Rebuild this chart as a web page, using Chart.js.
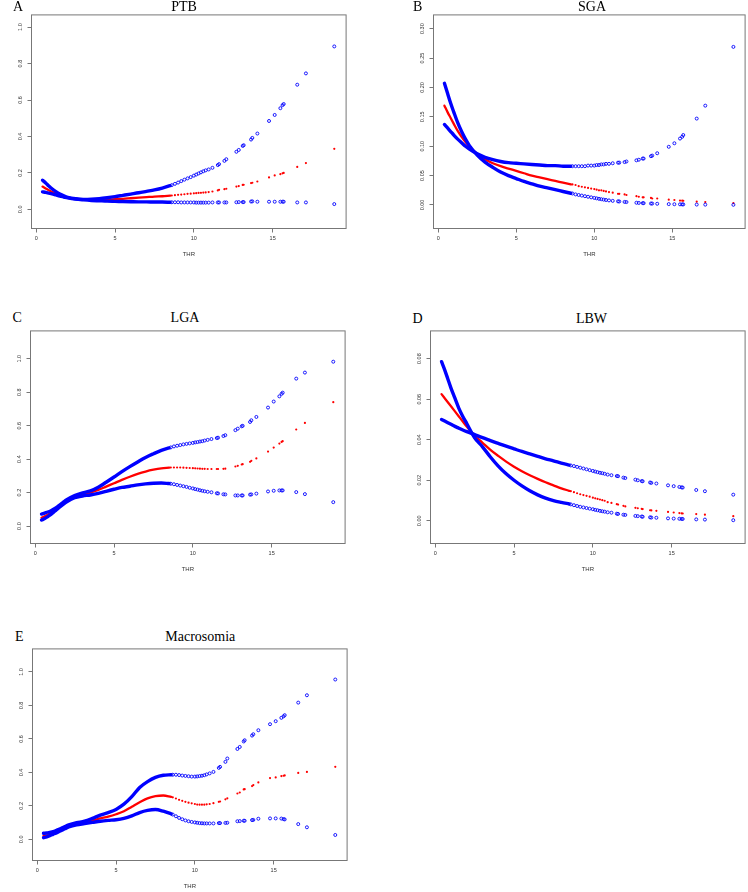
<!DOCTYPE html>
<html lang="en">
<head>
<meta charset="UTF-8">
<title>THR dose-response panels</title>
<script src="https://cdn.jsdelivr.net/npm/chart.js"></script>
<style>
    body {
        margin: 0;
        background: #fff;
        width: 748px;
        height: 892px;
        position: relative;
        overflow: hidden;
    }
    canvas { position: absolute; }
    .title, .letter {
        position: absolute;
        font-family: "Liberation Serif", "Times New Roman", serif;
        font-size: 14px;
        line-height: 14px;
        color: #000;
        white-space: nowrap;
    }
    .title { transform: translateX(-50%); }
</style>
</head>
<body>
<script>
// THR values (same for every panel); the first ones up to DENSE_MAX form a continuous band
const thr = [0.4, 0.6, 0.8, 1.0, 1.25, 1.5, 1.75, 2.0, 2.5, 3.0, 3.5, 4.0, 4.5, 5.0, 5.5, 6.0, 6.5, 7.0, 7.5, 8.0, 8.5,
    8.6, 8.8, 9.0, 9.2, 9.4, 9.6, 9.8, 10.0, 10.15, 10.3, 10.45, 10.6, 10.75,
    10.94, 11.18, 11.52, 11.60, 11.94, 12.06, 12.70, 12.85, 13.10, 13.16, 13.63, 13.71, 14.03, 14.77, 15.13, 15.49, 15.63, 15.70, 16.56, 17.11, 18.91];
const DENSE_MAX = 8.5;

// A - PTB
const ptbCi1 = [0.160, 0.145, 0.128, 0.113, 0.097, 0.084, 0.074, 0.066, 0.058, 0.055, 0.056, 0.059, 0.064, 0.070, 0.077, 0.084, 0.091, 0.099, 0.107, 0.117, 0.130,
    0.133, 0.140, 0.147, 0.155, 0.163, 0.170, 0.177, 0.185, 0.191, 0.197, 0.203, 0.209, 0.214,
    0.219, 0.228, 0.243, 0.248, 0.266, 0.275, 0.316, 0.326, 0.348, 0.352, 0.383, 0.392, 0.416, 0.485, 0.518, 0.555, 0.572, 0.578, 0.684, 0.746, 0.894];
const ptbFit = [0.125, 0.115, 0.105, 0.096, 0.085, 0.076, 0.069, 0.064, 0.057, 0.054, 0.053, 0.053, 0.054, 0.056, 0.058, 0.061, 0.064, 0.067, 0.070, 0.072, 0.075,
    0.076, 0.078, 0.080, 0.081, 0.083, 0.085, 0.086, 0.088, 0.089, 0.090, 0.091, 0.092, 0.093,
    0.095, 0.098, 0.104, 0.107, 0.111, 0.113, 0.125, 0.128, 0.134, 0.135, 0.144, 0.146, 0.153, 0.175, 0.186, 0.193, 0.198, 0.200, 0.233, 0.254, 0.332];
const ptbCi2 = [0.096, 0.093, 0.089, 0.085, 0.079, 0.073, 0.068, 0.063, 0.056, 0.052, 0.049, 0.047, 0.045, 0.044, 0.043, 0.042, 0.041, 0.041, 0.040, 0.040, 0.039,
    0.039, 0.039, 0.039, 0.038, 0.038, 0.038, 0.038, 0.038, 0.037, 0.037, 0.037, 0.037, 0.037,
    0.037, 0.038, 0.038, 0.038, 0.038, 0.038, 0.039, 0.040, 0.040, 0.040, 0.043, 0.044, 0.042, 0.042, 0.042, 0.042, 0.042, 0.042, 0.038, 0.038, 0.029];

// B - SGA
const sgaCi1 = [0.207, 0.190, 0.173, 0.158, 0.140, 0.125, 0.112, 0.101, 0.085, 0.073, 0.064, 0.056, 0.050, 0.045, 0.040, 0.036, 0.032, 0.029, 0.026, 0.023, 0.020,
    0.0195, 0.018, 0.017, 0.016, 0.015, 0.014, 0.013, 0.012, 0.0113, 0.0105, 0.0098, 0.0091, 0.0085,
    0.0078, 0.0070, 0.0062, 0.0060, 0.0052, 0.0050, 0.0038, 0.0035, 0.0032, 0.0031, 0.0025, 0.0024, 0.0021, 0.0015, 0.0013, 0.0011, 0.0010, 0.0010, 0.0007, 0.0006, 0.0003];
const sgaFit = [0.169, 0.158, 0.148, 0.138, 0.126, 0.116, 0.107, 0.099, 0.087, 0.078, 0.071, 0.066, 0.062, 0.058, 0.054, 0.050, 0.047, 0.044, 0.041, 0.038, 0.035,
    0.035, 0.034, 0.032, 0.031, 0.030, 0.029, 0.028, 0.027, 0.026, 0.025, 0.025, 0.024, 0.023,
    0.022, 0.021, 0.019, 0.019, 0.018, 0.017, 0.015, 0.014, 0.013, 0.013, 0.012, 0.011, 0.011, 0.009, 0.0085, 0.0075, 0.0073, 0.0072, 0.0057, 0.0050, 0.0033];
const sgaCi2 = [0.137, 0.131, 0.125, 0.119, 0.112, 0.106, 0.100, 0.095, 0.087, 0.081, 0.077, 0.074, 0.072, 0.071, 0.070, 0.069, 0.068, 0.067, 0.067, 0.066, 0.066,
    0.066, 0.066, 0.066, 0.066, 0.066, 0.067, 0.067, 0.067, 0.068, 0.068, 0.069, 0.069, 0.070,
    0.070, 0.071, 0.072, 0.072, 0.073, 0.074, 0.076, 0.077, 0.079, 0.079, 0.083, 0.084, 0.088, 0.099, 0.105, 0.113, 0.116, 0.119, 0.147, 0.169, 0.269];

// C - LGA
const lgaCi1 = [0.072, 0.078, 0.084, 0.092, 0.105, 0.122, 0.140, 0.158, 0.183, 0.198, 0.210, 0.232, 0.262, 0.293, 0.325, 0.355, 0.383, 0.410, 0.432, 0.452, 0.467,
    0.470, 0.476, 0.480, 0.484, 0.488, 0.491, 0.494, 0.497, 0.500, 0.502, 0.505, 0.507, 0.511,
    0.515, 0.520, 0.526, 0.528, 0.538, 0.543, 0.573, 0.582, 0.596, 0.599, 0.622, 0.632, 0.652, 0.708, 0.744, 0.775, 0.790, 0.797, 0.881, 0.917, 0.982];
const lgaFit = [0.050, 0.058, 0.068, 0.080, 0.097, 0.115, 0.133, 0.150, 0.177, 0.190, 0.200, 0.216, 0.236, 0.256, 0.276, 0.295, 0.312, 0.326, 0.337, 0.345, 0.349,
    0.350, 0.350, 0.350, 0.350, 0.349, 0.348, 0.347, 0.346, 0.345, 0.344, 0.343, 0.342, 0.342,
    0.341, 0.341, 0.341, 0.341, 0.342, 0.343, 0.356, 0.360, 0.368, 0.370, 0.384, 0.390, 0.404, 0.445, 0.469, 0.493, 0.503, 0.507, 0.577, 0.616, 0.740];
const lgaCi2 = [0.036, 0.045, 0.057, 0.070, 0.090, 0.110, 0.128, 0.145, 0.170, 0.180, 0.186, 0.195, 0.208, 0.220, 0.231, 0.238, 0.246, 0.252, 0.256, 0.257, 0.254,
    0.253, 0.250, 0.246, 0.242, 0.238, 0.234, 0.229, 0.225, 0.221, 0.218, 0.214, 0.211, 0.208,
    0.205, 0.202, 0.196, 0.195, 0.190, 0.189, 0.183, 0.183, 0.183, 0.183, 0.188, 0.189, 0.194, 0.207, 0.211, 0.213, 0.213, 0.213, 0.203, 0.191, 0.143];

// D - LBW
const lbwCi1 = [0.0785, 0.0745, 0.0700, 0.0655, 0.0605, 0.0555, 0.0515, 0.0480, 0.0410, 0.0365, 0.0315, 0.0270, 0.0232, 0.0200, 0.0172, 0.0148, 0.0128, 0.0112, 0.0100, 0.0091, 0.0083,
    0.0081, 0.0077, 0.0073, 0.0069, 0.0066, 0.0063, 0.0060, 0.0057, 0.0054, 0.0052, 0.0049, 0.0047, 0.0045,
    0.0042, 0.0040, 0.0035, 0.0034, 0.0030, 0.0029, 0.0024, 0.0023, 0.0021, 0.0020, 0.0017, 0.0016, 0.0015, 0.0012, 0.0011, 0.0010, 0.0009, 0.0009, 0.0007, 0.0006, 0.0003];
const lbwFit = [0.0625, 0.0605, 0.0585, 0.0565, 0.0540, 0.0515, 0.0490, 0.0465, 0.0420, 0.0385, 0.0350, 0.0320, 0.0292, 0.0267, 0.0245, 0.0225, 0.0207, 0.0190, 0.0175, 0.0160, 0.0148,
    0.0146, 0.0141, 0.0136, 0.0131, 0.0127, 0.0123, 0.0119, 0.0114, 0.0111, 0.0108, 0.0105, 0.0102, 0.0099,
    0.0092, 0.0088, 0.0082, 0.0080, 0.0074, 0.0071, 0.0064, 0.0062, 0.0059, 0.0058, 0.0052, 0.0051, 0.0049, 0.0044, 0.0041, 0.0038, 0.0037, 0.0036, 0.0033, 0.0030, 0.0023];
const lbwCi2 = [0.0500, 0.0492, 0.0484, 0.0476, 0.0466, 0.0457, 0.0448, 0.0440, 0.0425, 0.0410, 0.0396, 0.0382, 0.0368, 0.0355, 0.0342, 0.0330, 0.0318, 0.0306, 0.0296, 0.0285, 0.0275,
    0.0273, 0.0270, 0.0266, 0.0262, 0.0258, 0.0254, 0.0250, 0.0246, 0.0243, 0.0240, 0.0237, 0.0235, 0.0232,
    0.0228, 0.0225, 0.0221, 0.0220, 0.0213, 0.0211, 0.0203, 0.0200, 0.0196, 0.0195, 0.0189, 0.0187, 0.0184, 0.0175, 0.0171, 0.0167, 0.0165, 0.0164, 0.0152, 0.0146, 0.0129];

// E - Macrosomia
const macCi1 = [0.036, 0.038, 0.042, 0.046, 0.055, 0.065, 0.076, 0.086, 0.099, 0.108, 0.125, 0.145, 0.160, 0.179, 0.210, 0.255, 0.310, 0.345, 0.370, 0.383, 0.386,
    0.386, 0.386, 0.384, 0.381, 0.379, 0.377, 0.375, 0.375, 0.376, 0.378, 0.380, 0.383, 0.388,
    0.394, 0.403, 0.427, 0.433, 0.463, 0.483, 0.540, 0.552, 0.585, 0.592, 0.620, 0.628, 0.652, 0.688, 0.706, 0.726, 0.735, 0.742, 0.817, 0.861, 0.955];
const macFit = [0.020, 0.024, 0.030, 0.036, 0.046, 0.058, 0.069, 0.080, 0.093, 0.103, 0.113, 0.125, 0.136, 0.150, 0.168, 0.195, 0.222, 0.245, 0.258, 0.262, 0.254,
    0.251, 0.244, 0.236, 0.230, 0.224, 0.219, 0.215, 0.211, 0.208, 0.207, 0.207, 0.207, 0.209,
    0.211, 0.216, 0.224, 0.226, 0.239, 0.245, 0.274, 0.280, 0.298, 0.300, 0.318, 0.324, 0.340, 0.366, 0.370, 0.378, 0.380, 0.382, 0.397, 0.403, 0.433];
const macCi2 = [0.010, 0.015, 0.022, 0.030, 0.040, 0.052, 0.063, 0.074, 0.087, 0.094, 0.101, 0.108, 0.113, 0.117, 0.125, 0.140, 0.160, 0.173, 0.178, 0.168, 0.152,
    0.148, 0.138, 0.128, 0.120, 0.113, 0.108, 0.104, 0.101, 0.099, 0.097, 0.096, 0.095, 0.095,
    0.095, 0.095, 0.097, 0.097, 0.098, 0.099, 0.108, 0.109, 0.111, 0.111, 0.115, 0.116, 0.123, 0.125, 0.125, 0.124, 0.121, 0.119, 0.091, 0.072, 0.026];

// axis ticks
const xTicks = [0, 5, 10, 15];
const probTicks = [0, 0.2, 0.4, 0.6, 0.8, 1.0];
const sgaTicks = [0, 0.05, 0.10, 0.15, 0.20, 0.25, 0.30];
const lbwTicks = [0, 0.02, 0.04, 0.06, 0.08];

const BLUE = '#0000ff';
const RED = '#ff0000';
const AXIS = '#777';
const TEXT = '#333';
const SANS = '"Liberation Sans", Arial, sans-serif';

// box = plot frame in page pixels [left, top, right, bottom]
const panels = [
    { letter: 'A', title: 'PTB', titleX: 184, baseline: 11.5, letterX: 13, box: [31.5, 14.5, 346.5, 228.5],
      yMin: -0.105, yMax: 1.067, yTicks: probTicks, digits: 1, series: [ptbCi1, ptbFit, ptbCi2] },
    { letter: 'B', title: 'SGA', titleX: 592, baseline: 11.5, letterX: 413, box: [433.5, 14.5, 745.5, 228.5],
      yMin: -0.040, yMax: 0.3234, yTicks: sgaTicks, digits: 2, series: [sgaCi1, sgaFit, sgaCi2] },
    { letter: 'C', title: 'LGA', titleX: 185, baseline: 323, letterX: 12.5, box: [30.5, 330.5, 345.5, 543.5],
      yMin: -0.104, yMax: 1.166, yTicks: probTicks, digits: 1, series: [lgaCi1, lgaFit, lgaCi2] },
    { letter: 'D', title: 'LBW', titleX: 591.5, baseline: 323.5, letterX: 412.5, box: [430.5, 330.5, 745.5, 543.5],
      yMin: -0.0112, yMax: 0.0937, yTicks: lbwTicks, digits: 2, series: [lbwCi1, lbwFit, lbwCi2] },
    { letter: 'E', title: 'Macrosomia', titleX: 200.3, baseline: 642, letterX: 15, box: [32.5, 648.5, 347.5, 860.5],
      yMin: -0.1265, yMax: 1.138, yTicks: probTicks, digits: 1, series: [macCi1, macFit, macCi2] }
];

// frame around the plot region + rotated y tick labels (R style)
const frame = {
    id: 'frame',
    afterDraw(chart, args, opts) {
        const {ctx, chartArea: a, scales: {y}} = chart;
        ctx.save();
        ctx.strokeStyle = AXIS;
        ctx.lineWidth = 1;
        ctx.strokeRect(a.left, a.top, a.right - a.left, a.bottom - a.top);
        ctx.fillStyle = TEXT;
        ctx.font = '5.5px ' + SANS;
        ctx.textAlign = 'center';
        ctx.textBaseline = 'middle';
        y.ticks.forEach(t => {
            ctx.save();
            ctx.translate(a.left - 11, y.getPixelForValue(t.value));
            ctx.rotate(-Math.PI / 2);
            ctx.fillText(t.value.toFixed(opts.digits), 0, 0);
            ctx.restore();
        });
        ctx.restore();
    }
};

function seriesSets(ys, color, isFit, order) {
    const dense = [], sparse = [];
    thr.forEach((x, i) => (x <= DENSE_MAX ? dense : sparse).push({ x: x, y: ys[i] }));
    return [
        {
            data: dense, showLine: true, order: order,
            borderColor: color, backgroundColor: color,
            borderWidth: isFit ? 2.3 : 3.4, borderCapStyle: 'round',
            cubicInterpolationMode: 'monotone', pointRadius: 0
        },
        {
            data: sparse, showLine: false, order: order,
            pointRadius: isFit ? 1.1 : 1.5,
            pointBorderWidth: isFit ? 0 : 0.9,
            pointBorderColor: color,
            pointBackgroundColor: isFit ? color : 'rgba(0,0,0,0)'
        }
    ];
}

function addText(cls, text, left, top) {
    const d = document.createElement('div');
    d.className = cls;
    d.textContent = text;
    d.style.left = left + 'px';
    d.style.top = top + 'px';
    document.body.appendChild(d);
}

panels.forEach(p => {
    const [bl, bt, br, bb] = p.box;
    const cLeft = Math.floor(bl) - 30;
    const cTop = Math.floor(bt) - 4;
    const cW = Math.ceil(br) + 4 - cLeft;
    const cH = Math.ceil(bb) + 36 - cTop;
    const yWidth = bl - cLeft;
    const padTop = bt - cTop;
    const padRight = cW - (br - cLeft);
    const xHeight = cH - (bb - cTop);

    const canvas = document.createElement('canvas');
    canvas.width = cW;
    canvas.height = cH;
    canvas.style.left = cLeft + 'px';
    canvas.style.top = cTop + 'px';
    canvas.style.width = cW + 'px';
    canvas.style.height = cH + 'px';
    document.body.appendChild(canvas);

    addText('title', p.title, p.titleX, p.baseline - 11.7);
    addText('letter', p.letter, p.letterX, p.baseline - 11.7);

    new Chart(canvas, {
        type: 'scatter',
        data: {
            datasets: [
                ...seriesSets(p.series[1], RED, true, 2),
                ...seriesSets(p.series[0], BLUE, false, 1),
                ...seriesSets(p.series[2], BLUE, false, 1)
            ]
        },
        options: {
            responsive: false,
            animation: false,
            events: [],
            layout: { padding: { left: 0, top: padTop, right: padRight, bottom: 0 } },
            plugins: {
                legend: { display: false },
                tooltip: { enabled: false },
                frame: { digits: p.digits }
            },
            scales: {
                x: {
                    type: 'linear',
                    min: -0.3,
                    max: 19.66,
                    afterBuildTicks: s => { s.ticks = xTicks.map(v => ({ value: v })); },
                    afterFit: s => { s.height = xHeight; },
                    grid: { drawOnChartArea: false, drawTicks: true, tickLength: 4, tickColor: AXIS, tickWidth: 1 },
                    border: { display: false },
                    ticks: { padding: 3, color: TEXT, maxRotation: 0, font: { family: SANS, size: 5.5 } },
                    title: {
                        display: true, text: 'THR', color: TEXT,
                        font: { family: SANS, size: 6 },
                        padding: { top: 0, bottom: xHeight - 25.5 - 3.6 }
                    }
                },
                y: {
                    type: 'linear',
                    min: p.yMin,
                    max: p.yMax,
                    afterBuildTicks: s => { s.ticks = p.yTicks.map(v => ({ value: v })); },
                    afterFit: s => { s.width = yWidth; },
                    grid: { drawOnChartArea: false, drawTicks: true, tickLength: 4, tickColor: AXIS, tickWidth: 1 },
                    border: { display: false },
                    ticks: { display: false }
                }
            }
        },
        plugins: [frame]
    });
});
</script>
</body>
</html>
